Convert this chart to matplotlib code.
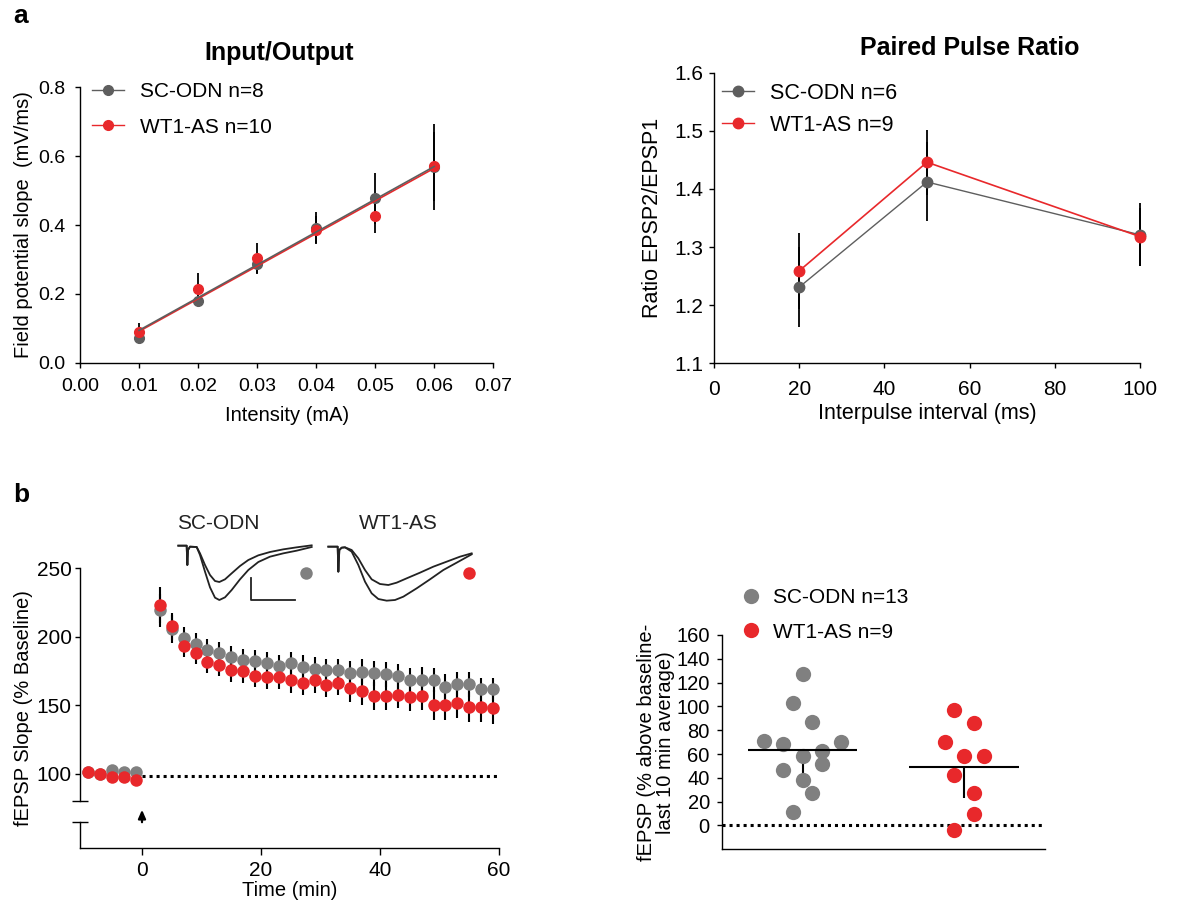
import numpy as np
import matplotlib
matplotlib.use('Agg')
import matplotlib.pyplot as plt
from matplotlib.lines import Line2D

plt.rcParams['font.family'] = ['Liberation Sans', 'DejaVu Sans']
plt.rcParams['axes.linewidth'] = 1.0

W, H = 1177, 902
GREY_DARK = '#5e5e5e'
GREY = '#808080'
RED = '#e8282b'

# ---- a: input / output ----
io_x = [0.01, 0.02, 0.03, 0.04, 0.05, 0.06]
io_sc = [0.073, 0.179, 0.286, 0.392, 0.477, 0.569]
io_sc_err = [0.012, 0.012, 0.026, 0.045, 0.073, 0.125]
io_wt = [0.088, 0.213, 0.303, 0.385, 0.426, 0.571]
io_wt_err = [0.026, 0.047, 0.046, 0.040, 0.048, 0.100]
io_sc_fit = (9.52, -0.0012)   # slope, intercept of the drawn fit
io_wt_fit = (9.48, -0.0038)

# ---- a: paired pulse ratio ----
ppr_x = [20, 50, 100]
ppr_sc = [1.231, 1.412, 1.321]
ppr_sc_err = [0.069, 0.068, 0.054]
ppr_wt = [1.259, 1.446, 1.318]
ppr_wt_err = [0.066, 0.056, 0.050]

# ---- b: LTP time course ----
ltp_t = [-9, -7, -5, -3, -1,
         3, 5, 7, 9, 11, 13, 15, 17, 19, 21, 23, 25, 27, 29, 31, 33, 35,
         37, 39, 41, 43, 45, 47, 49, 51, 53, 55, 57, 59]
ltp_sc = [101, 100, 102.5, 101.5, 101.5,
          219, 205.5, 199, 194.5, 190.5, 188, 185, 183, 182.3, 180.7, 178.4,
          180.8, 177.8, 176.6, 175.4, 175.4, 173.2, 174.3, 173.2, 172.4, 171,
          168.3, 168.5, 168.3, 163.3, 165.1, 165.2, 161.5, 161.5]
ltp_sc_err = [2, 2, 2, 2, 2,
              12, 10, 8, 8, 8, 8, 8, 8, 8, 8, 8, 8, 8.5, 8.5, 8.5, 8.5, 9,
              9, 9, 9, 9, 9, 9, 9, 9, 9, 9, 8.5, 8.5]
ltp_wt = [101, 100, 97.3, 97.3, 95,
          223, 207.5, 193, 188, 181.5, 179, 175.5, 174.5, 171.5, 170.5, 170.5,
          168, 166, 168, 165, 166, 162.5, 160, 156.5, 156.5, 157.5, 156, 156.5,
          150, 150, 151.5, 148.5, 148.5, 147.5]
ltp_wt_err = [2, 2, 2, 2, 2,
              13, 10, 8, 8, 8, 8, 8.5, 8.5, 8.5, 8.5, 8.5, 9, 9, 9, 9, 9, 10,
              10, 10, 10, 10, 10, 10, 11, 11, 11, 11, 11, 11.5]
ltp_baseline = 98

# example traces (sketch units: x right, y down)
tr_sc_small_x = [55, 80, 82, 84, 90, 110, 120, 135, 150, 165, 178, 195, 215, 240, 265, 295, 330, 370, 410, 455]
tr_sc_small_y = [137, 137, 195, 150, 140, 141, 160, 195, 225, 243, 246, 238, 220, 198, 180, 166, 156, 148, 142, 136]
tr_sc_big_x = [55, 80, 82, 84, 90, 110, 120, 135, 150, 165, 178, 195, 215, 240, 265, 295, 330, 370, 410, 455]
tr_sc_big_y = [137, 137, 195, 150, 140, 141, 165, 215, 262, 293, 300, 292, 270, 238, 210, 186, 170, 160, 152, 141]
tr_wt_small_x = [505, 533, 535, 538, 545, 555, 575, 595, 615, 635, 660, 685, 710, 740, 780, 820, 860, 900, 935]
tr_wt_small_y = [140, 140, 215, 150, 143, 142, 150, 175, 210, 238, 252, 255, 248, 235, 218, 200, 185, 170, 160]
tr_wt_big_x = [505, 533, 535, 538, 545, 555, 575, 595, 615, 635, 655, 680, 705, 730, 770, 810, 850, 890, 935]
tr_wt_big_y = [140, 140, 215, 150, 143, 142, 155, 195, 245, 280, 297, 302, 300, 290, 265, 238, 210, 188, 163]

# ---- b: last 10 min summary ----
sum_sc = [127, 102.8, 86.8, 71.2, 68.4, 70.1, 58.1, 62.3, 46.9, 51.7, 38.5, 27.4, 11.4]
sum_sc_off = [0, -0.06, 0.06, -0.24, -0.12, 0.24, 0, 0.12, -0.12, 0.12, 0, 0.06, -0.06]
sum_wt = [96.6, 86, 69.8, 58.1, 58.1, 42.7, 27.4, 9.8, -3.9]
sum_wt_off = [-0.06, 0.06, -0.12, 0, 0.12, -0.06, 0.06, 0.06, -0.06]
sum_bar = [23.5, 26.5]


def px_axes(fig, x0, y0, x1, y1):
    return fig.add_axes([x0 / W, 1 - y1 / H, (x1 - x0) / W, (y1 - y0) / H])


def style(ax, size, xpad=3, ypad=3):
    ax.spines['top'].set_visible(False)
    ax.spines['right'].set_visible(False)
    ax.tick_params(direction='out', length=3.6, width=1, labelsize=size)
    ax.tick_params(axis='x', pad=xpad)
    ax.tick_params(axis='y', pad=ypad)


fig = plt.figure(figsize=(W / 100, H / 100), dpi=100)

# ---------------- Input/Output ----------------
ax1 = px_axes(fig, 80, 87.3, 493.3, 362.7)
style(ax1, 14, xpad=7.3, ypad=6.6)
ax1.set_xlim(0, 0.07)
ax1.set_ylim(0, 0.8)
ax1.set_xticks(np.arange(0, 0.071, 0.01))
ax1.set_xticklabels(['%.2f' % v for v in np.arange(0, 0.071, 0.01)])
ax1.set_yticks([0, 0.2, 0.4, 0.6, 0.8])
ax1.set_yticklabels(['0.0', '0.2', '0.4', '0.6', '0.8'])
xs = np.array([io_x[0], io_x[-1]])
ax1.errorbar(io_x, io_wt, yerr=io_wt_err, fmt='none', ecolor='black', elinewidth=1.3, zorder=2)
ax1.errorbar(io_x, io_sc, yerr=io_sc_err, fmt='none', ecolor='black', elinewidth=1.3, zorder=2)
ax1.plot(io_x, io_sc, 'o', color=GREY_DARK, ms=7, zorder=3, clip_on=False)
ax1.plot(io_x, io_wt, 'o', color=RED, ms=7, zorder=3, clip_on=False)
ax1.plot(xs, io_wt_fit[0] * xs + io_wt_fit[1], color=RED, lw=1.2, zorder=4)
ax1.plot(xs, io_sc_fit[0] * xs + io_sc_fit[1], color=GREY_DARK, lw=1.2, zorder=4)
ax1.set_xlabel('Intensity (mA)', fontsize=14.5, labelpad=8)
ax1.set_ylabel('Field potential slope  (mV/ms)', fontsize=14.5, labelpad=4)
h1 = [Line2D([], [], color=GREY_DARK, marker='o', ms=7, lw=1),
      Line2D([], [], color=RED, marker='o', ms=7, lw=1)]
ax1.legend(h1, ['SC-ODN n=8', 'WT1-AS n=10'], loc='upper left',
           bbox_to_anchor=(92 / W, 1 - 82 / H), bbox_transform=fig.transFigure,
           frameon=False, fontsize=15, borderpad=0, borderaxespad=0,
           handlelength=1.55, handletextpad=0.75, labelspacing=0.8)
fig.text(279 / W, 1 - 60 / H, 'Input/Output', fontsize=18, fontweight='bold',
         ha='center', va='baseline')

# ---------------- Paired Pulse Ratio ----------------
ax2 = px_axes(fig, 714, 72.7, 1140, 363.3)
style(ax2, 15, xpad=8.5, ypad=4)
ax2.set_xlim(0, 100)
ax2.set_ylim(1.1, 1.6)
ax2.set_xticks([0, 20, 40, 60, 80, 100])
ax2.set_yticks([1.1, 1.2, 1.3, 1.4, 1.5, 1.6])
ax2.set_yticklabels(['1.1', '1.2', '1.3', '1.4', '1.5', '1.6'])
ax2.errorbar(ppr_x, ppr_sc, yerr=ppr_sc_err, fmt='none', ecolor='black', elinewidth=1.3, zorder=2, clip_on=False)
ax2.errorbar(ppr_x, ppr_wt, yerr=ppr_wt_err, fmt='none', ecolor='black', elinewidth=1.3, zorder=2, clip_on=False)
ax2.plot(ppr_x, ppr_sc, '-o', color=GREY_DARK, ms=7.5, lw=1.0, zorder=3, clip_on=False)
ax2.plot(ppr_x, ppr_wt, '-o', color=RED, ms=7.5, lw=1.2, zorder=4, clip_on=False)
ax2.set_xlabel('Interpulse interval (ms)', fontsize=15.5, labelpad=3)
ax2.set_ylabel('Ratio EPSP2/EPSP1', fontsize=15.5, labelpad=8)
h2 = [Line2D([], [], color=GREY_DARK, marker='o', ms=7.5, lw=1),
      Line2D([], [], color=RED, marker='o', ms=7.5, lw=1)]
ax2.legend(h2, ['SC-ODN n=6', 'WT1-AS n=9'], loc='upper left',
           bbox_to_anchor=(722 / W, 1 - 83 / H), bbox_transform=fig.transFigure,
           frameon=False, fontsize=15.5, borderpad=0, borderaxespad=0,
           handlelength=1.5, handletextpad=0.75, labelspacing=0.5)
fig.text(970 / W, 1 - 55 / H, 'Paired Pulse Ratio', fontsize=18, fontweight='bold',
         ha='center', va='baseline')

# ---------------- LTP time course (broken y axis) ----------------
ax3 = px_axes(fig, 80, 568, 499, 801)
ax3b = px_axes(fig, 80, 822, 499, 848)
for a in (ax3, ax3b):
    style(a, 15, xpad=4, ypad=2.5)
    a.set_xlim(-10.42, 60)
    a.patch.set_alpha(0)
ax3.spines['bottom'].set_visible(False)
ax3.set_ylim(80, 250)
ax3.spines['left'].set_bounds(80, 250)
ax3.set_xticks([])
ax3.set_yticks([100, 150, 200, 250])
ax3.set_yticks([80], minor=True)
ax3.tick_params(axis='y', which='minor', direction='inout', length=12, width=1)
ax3b.set_ylim(0, 1)
ax3b.set_yticks([])
ax3b.set_yticks([1], minor=True)
ax3b.tick_params(axis='y', which='minor', direction='inout', length=12, width=1)
ax3b.set_xticks([0, 20, 40, 60])
ax3b.tick_params(axis='x', length=5)
ax3b.set_xlabel('Time (min)', fontsize=14.5, labelpad=1)

ax3.hlines(ltp_baseline, 0, 60, colors='black', linestyles=(0, (1, 1.3)), lw=2.2, zorder=1)
ax3.errorbar(ltp_t, ltp_sc, yerr=ltp_sc_err, fmt='none', ecolor='black', elinewidth=1.5, zorder=2)
ax3.errorbar(ltp_t, ltp_wt, yerr=ltp_wt_err, fmt='none', ecolor='black', elinewidth=1.5, zorder=2)
ax3.plot(ltp_t, ltp_sc, 'o', color=GREY, ms=9, mec='none', zorder=3, clip_on=False)
ax3.plot(ltp_t, ltp_wt, 'o', color=RED, ms=9, mec='none', zorder=4, clip_on=False)
fig.text(24 / W, 1 - 708 / H, 'fEPSP Slope (% Baseline)', fontsize=14.5,
         rotation=90, ha='center', va='center')
ax3b.annotate('', xy=(0, H - 807), xytext=(0, H - 825),
              xycoords=('data', 'figure pixels'), textcoords=('data', 'figure pixels'),
              arrowprops=dict(arrowstyle='-|>,head_width=0.22,head_length=0.5',
                              color='black', lw=1.6))

# example traces inset
axi = px_axes(fig, 160, 500, 500, 630)
axi.set_xlim(0, 1020)
axi.set_ylim(390, 0)
axi.axis('off')
for tx, ty in ((tr_sc_small_x, tr_sc_small_y), (tr_sc_big_x, tr_sc_big_y),
               (tr_wt_small_x, tr_wt_small_y), (tr_wt_big_x, tr_wt_big_y)):
    axi.plot(tx, ty, color='#222222', lw=1.3)
axi.plot([272, 272, 405], [235, 300, 300], color='#222222', lw=1.3)
axi.plot([437], [220], 'o', color=GREY, ms=9, mec='none')
axi.plot([928], [220], 'o', color=RED, ms=9, mec='none')
axi.text(175, 70, 'SC-ODN', fontsize=15, ha='center', va='center', color='#222222')
axi.text(715, 70, 'WT1-AS', fontsize=15, ha='center', va='center', color='#222222')

# ---------------- last 10 min summary ----------------
ax4 = px_axes(fig, 721.7, 635, 1045, 849.3)
style(ax4, 14.5, ypad=5)
ax4.set_xlim(0.5, 2.5)
ax4.set_ylim(-20, 160)
ax4.spines['left'].set_bounds(-20, 160)
ax4.set_yticks(range(0, 161, 20))
ax4.set_xticks([])
ax4.axhline(0, color='black', linestyle=(0, (1, 1.3)), lw=2.2, zorder=1)
for i, (vals, offs, col) in enumerate(((sum_sc, sum_sc_off, GREY), (sum_wt, sum_wt_off, RED))):
    xc = i + 1
    m = np.mean(vals)
    ax4.vlines(xc, m - sum_bar[i], m, colors='black', lw=1.5, zorder=2)
    ax4.plot(xc + np.array(offs), vals, 'o', color=col, ms=11, mec='none', zorder=3, clip_on=False)
    ax4.hlines(m, xc - 0.34, xc + 0.34, colors='black', lw=1.5, zorder=4)
ax4.set_ylabel('fEPSP (% above baseline-\nlast 10 min average)', fontsize=14.5,
               labelpad=1, linespacing=1.0)
h4 = [Line2D([], [], color=GREY, marker='o', ms=11, lw=0, mec='none'),
      Line2D([], [], color=RED, marker='o', ms=11, lw=0, mec='none')]
ax4.legend(h4, ['SC-ODN n=13', 'WT1-AS n=9'], loc='upper left',
           bbox_to_anchor=(741 / W, 1 - 588 / H), bbox_transform=fig.transFigure,
           frameon=False, fontsize=15, borderpad=0, borderaxespad=0,
           handlelength=1.0, handletextpad=0.55, labelspacing=0.75)

# panel letters
fig.text(13 / W, 1 - 23 / H, 'a', fontsize=19, fontweight='bold', va='baseline')
fig.text(13 / W, 1 - 502 / H, 'b', fontsize=19, fontweight='bold', va='baseline')

fig.savefig('out.png', dpi=100)
